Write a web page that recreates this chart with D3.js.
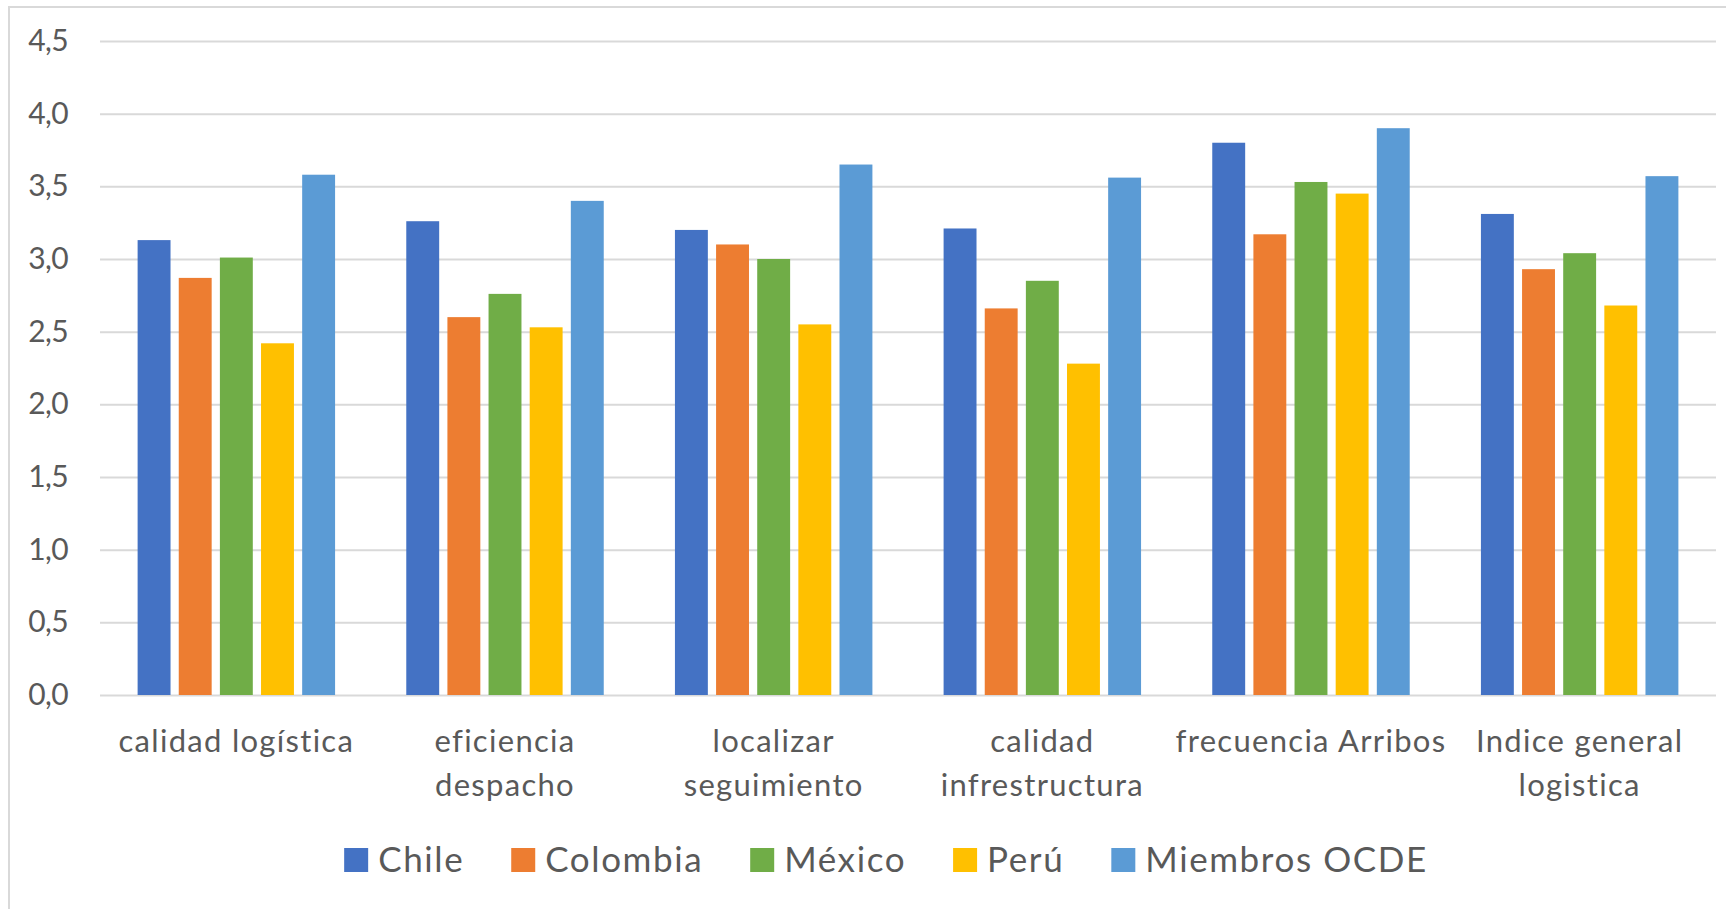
<!DOCTYPE html>
<html>
<head>
<meta charset="utf-8">
<script src="https://cdn.jsdelivr.net/npm/d3@7"></script>
<style>
  html, body { margin: 0; padding: 0; background: #fff; }
  svg { display: block; font-family: Lato, "Open Sans", sans-serif; }
</style>
</head>
<body>
<svg id="chart" width="1726" height="909"></svg>
<script>
// Indicadores de desempeño logístico por país
const categories = [
  ["calidad logística"],
  ["eficiencia", "despacho"],
  ["localizar", "seguimiento"],
  ["calidad", "infrestructura"],
  ["frecuencia Arribos"],
  ["Indice general", "logistica"]
];
const seriesNames = ["Chile", "Colombia", "México", "Perú", "Miembros OCDE"];
const chile    = [3.13, 3.26, 3.20, 3.21, 3.80, 3.31];
const colombia = [2.87, 2.60, 3.10, 2.66, 3.17, 2.93];
const mexico   = [3.01, 2.76, 3.00, 2.85, 3.53, 3.04];
const peru     = [2.42, 2.53, 2.55, 2.28, 3.45, 2.68];
const ocde     = [3.58, 3.40, 3.65, 3.56, 3.90, 3.57];
const yTicks   = [0, 0.5, 1, 1.5, 2, 2.5, 3, 3.5, 4, 4.5];
const colors   = ["#4472C4", "#ED7D31", "#70AD47", "#FFC000", "#5B9BD5"];

const seriesValues = [chile, colombia, mexico, peru, ocde];
const textColor = "#595959";
const gridColor = "#d9d9d9";

const svg = d3.select("#chart");
svg.append("rect").attr("width", 1726).attr("height", 909).attr("fill", "#fff");

// Outer chart frame
svg.append("rect")
  .attr("x", 9).attr("y", 7).attr("width", 1740).attr("height", 920)
  .attr("fill", "none").attr("stroke", gridColor).attr("stroke-width", 2);

const plot = { left: 100, right: 1716, top: 41, bottom: 695 };

const y = d3.scaleLinear().domain([0, 4.5]).range([plot.bottom, plot.top]);
const x0 = d3.scaleBand()
  .domain(d3.range(categories.length))
  .range([plot.left, plot.right])
  .paddingInner(0.265).paddingOuter(0.14);
const x1 = d3.scaleBand()
  .domain(d3.range(seriesNames.length))
  .range([0, x0.bandwidth()])
  .paddingInner(0.2);

const fmt = d3.formatLocale({ decimal: ",", thousands: ".", grouping: [3], currency: ["", ""] }).format(".1f");

// Horizontal gridlines and value labels
const yAxis = d3.axisLeft(y).tickValues(yTicks).tickFormat(fmt)
  .tickSize(-(plot.right - plot.left)).tickPadding(32);
const gy = svg.append("g").attr("transform", `translate(${plot.left},0)`).call(yAxis);
gy.select(".domain").remove();
gy.selectAll(".tick line").attr("stroke", gridColor).attr("stroke-width", 2);
gy.selectAll(".tick text")
  .attr("fill", textColor).attr("font-size", 30)
  .attr("letter-spacing", -0.6)
  .attr("font-family", "Lato, sans-serif");

// Bars
const groups = svg.append("g").selectAll("g")
  .data(categories)
  .join("g")
  .attr("transform", (d, i) => `translate(${x0(i)},0)`);

groups.selectAll("rect")
  .data((d, i) => seriesValues.map((s, k) => ({ k, v: s[i] })))
  .join("rect")
  .attr("x", d => x1(d.k))
  .attr("width", x1.bandwidth())
  .attr("y", d => y(d.v))
  .attr("height", d => y(0) - y(d.v))
  .attr("fill", d => colors[d.k]);

// Category labels (wrapped onto two lines where needed)
const xLabels = svg.append("g");
categories.forEach((lines, i) => {
  const t = xLabels.append("text")
    .attr("x", x0(i) + x0.bandwidth() / 2)
    .attr("y", 752)
    .attr("text-anchor", "middle")
    .attr("fill", textColor)
    .attr("font-size", 31)
    .attr("letter-spacing", 1.3);
  lines.forEach((line, j) => {
    t.append("tspan")
      .attr("x", x0(i) + x0.bandwidth() / 2)
      .attr("dy", j === 0 ? 0 : 44)
      .text(line);
  });
});

// Legend
const legend = svg.append("g");
const items = legend.selectAll("g").data(seriesNames).join("g");
items.append("rect")
  .attr("width", 24).attr("height", 24).attr("y", 848)
  .attr("fill", (d, i) => colors[i]);
items.append("text")
  .attr("x", 34).attr("y", 872)
  .attr("fill", textColor)
  .attr("font-size", 35)
  .attr("letter-spacing", 1.6)
  .text(d => d);

const gap = 47;
const widths = [];
items.each(function () {
  widths.push(34 + d3.select(this).select("text").node().getComputedTextLength());
});
const total = d3.sum(widths) + gap * (widths.length - 1);
let cx = 886 - total / 2;
items.each(function (d, i) {
  d3.select(this).attr("transform", `translate(${cx},0)`);
  cx += widths[i] + gap;
});
</script>
</body>
</html>
